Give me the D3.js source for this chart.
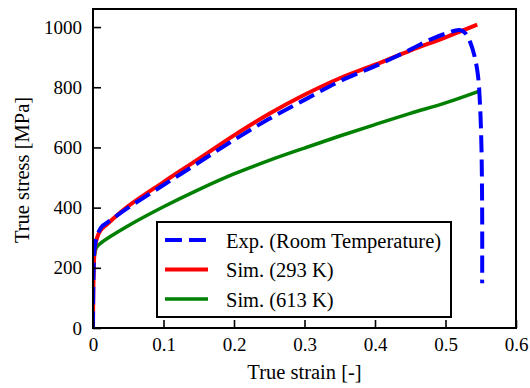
<!DOCTYPE html>
<html>
<head>
<meta charset="utf-8">
<script src="https://cdn.jsdelivr.net/npm/d3@7"></script>
<style>
  body { margin: 0; background: #fff; }
</style>
</head>
<body>
<svg id="chart" width="530" height="388"></svg>
<script>
// experimental curve (room temperature)
var expStrain = [0, 0.002, 0.005, 0.012, 0.02, 0.05, 0.1, 0.15, 0.2, 0.25, 0.3, 0.35, 0.4, 0.45, 0.48, 0.5, 0.52, 0.528, 0.535, 0.541, 0.546, 0.549, 0.551, 0.552, 0.552];
var expStress = [0, 260, 300, 336, 350, 400, 475, 550, 625, 695, 758, 820, 870, 925, 960, 978, 990, 980, 950, 905, 840, 740, 600, 380, 149];

// simulation 293 K
var sim293Strain = [0, 0.002, 0.004, 0.01, 0.02, 0.05, 0.1, 0.15, 0.2, 0.25, 0.3, 0.35, 0.4, 0.45, 0.5, 0.545];
var sim293Stress = [0, 250, 285, 322, 345, 405, 485, 562, 640, 712, 775, 830, 875, 922, 966, 1008];

// simulation 613 K
var sim613Strain = [0, 0.002, 0.005, 0.01, 0.024, 0.05, 0.1, 0.15, 0.2, 0.25, 0.3, 0.35, 0.4, 0.45, 0.5, 0.549];
var sim613Stress = [0, 240, 268, 280, 303, 340, 403, 460, 512, 557, 598, 638, 676, 713, 748, 788];

var xTicks = [0, 0.1, 0.2, 0.3, 0.4, 0.5, 0.6];
var yTicks = [0, 200, 400, 600, 800, 1000];

var seriesNames = ["Exp. (Room Temperature)", "Sim. (293 K)", "Sim. (613 K)"];
var seriesColors = ["#0000ff", "#ff0000", "#008000"];

var margin = { left: 93, right: 14, top: 9, bottom: 60 };
var width = 530, height = 388;
var serif = "'Liberation Serif', 'Times New Roman', serif";

var svg = d3.select("#chart");

var x = d3.scaleLinear().domain([0, 0.6]).range([margin.left, width - margin.right]);
var y = d3.scaleLinear().domain([0, 1060]).range([height - margin.bottom, margin.top]);

function zip(xs, ys) {
    return xs.map(function (v, i) { return [v, ys[i]]; });
}

var series = [
    { name: seriesNames[0], color: seriesColors[0], dash: "17,7", width: 4, data: zip(expStrain, expStress) },
    { name: seriesNames[1], color: seriesColors[1], dash: null, width: 4, data: zip(sim293Strain, sim293Stress) },
    { name: seriesNames[2], color: seriesColors[2], dash: null, width: 3.5, data: zip(sim613Strain, sim613Stress) }
];

var line = d3.line()
    .x(function (d) { return x(d[0]); })
    .y(function (d) { return y(d[1]); })
    .curve(d3.curveCatmullRom.alpha(0.5));

svg.append("defs").append("clipPath").attr("id", "clip")
    .append("rect")
    .attr("x", x(0)).attr("y", y(1060))
    .attr("width", x(0.6) - x(0)).attr("height", y(0) - y(1060));

var plot = svg.append("g").attr("clip-path", "url(#clip)");

// draw order: green, red, then dashed blue on top
[2, 1, 0].forEach(function (i) {
    var s = series[i];
    plot.append("path")
        .datum(s.data)
        .attr("fill", "none")
        .attr("stroke", s.color)
        .attr("stroke-width", s.width)
        .attr("stroke-dasharray", s.dash)
        .attr("d", line);
});

// axes with inward ticks
var xAxis = svg.append("g")
    .attr("transform", "translate(0," + y(0) + ")")
    .call(d3.axisBottom(x).tickValues(xTicks).tickSizeInner(-8).tickSizeOuter(0)
        .tickFormat(function (d) { return d === 0 ? "0" : d3.format(".1f")(d); }));
xAxis.attr("font-family", serif).attr("font-size", 19);
xAxis.select(".domain").remove();
xAxis.selectAll("line").attr("stroke", "#000").attr("stroke-width", 1.6);
xAxis.selectAll("text").attr("fill", "#000").attr("y", 10);

var yAxis = svg.append("g")
    .attr("transform", "translate(" + x(0) + ",0)")
    .call(d3.axisLeft(y).tickValues(yTicks).tickSizeInner(-8).tickSizeOuter(0)
        .tickFormat(d3.format("d")));
yAxis.attr("font-family", serif).attr("font-size", 19);
yAxis.select(".domain").remove();
yAxis.selectAll("line").attr("stroke", "#000").attr("stroke-width", 1.6);
yAxis.selectAll("text").attr("fill", "#000").attr("x", -11);

// frame
svg.append("rect")
    .attr("x", x(0)).attr("y", y(1060))
    .attr("width", x(0.6) - x(0)).attr("height", y(0) - y(1060))
    .attr("fill", "none").attr("stroke", "#000").attr("stroke-width", 2);

// axis labels
svg.append("text")
    .attr("x", (x(0) + x(0.6)) / 2).attr("y", 379)
    .attr("text-anchor", "middle")
    .attr("font-family", serif).attr("font-size", 20.5)
    .text("True strain [-]");

svg.append("text")
    .attr("transform", "translate(29,170) rotate(-90)")
    .attr("text-anchor", "middle")
    .attr("font-family", serif).attr("font-size", 20.5)
    .text("True stress [MPa]");

// legend
var legend = svg.append("g");
legend.append("rect")
    .attr("x", 157).attr("y", 222).attr("width", 294).attr("height", 95)
    .attr("fill", "#fff").attr("stroke", "#000").attr("stroke-width", 2);

series.forEach(function (s, i) {
    var ly = 240 + i * 29.5;
    legend.append("line")
        .attr("x1", 165).attr("x2", 208).attr("y1", ly).attr("y2", ly)
        .attr("stroke", s.color).attr("stroke-width", s.width)
        .attr("stroke-dasharray", s.dash);
    legend.append("text")
        .attr("x", 226).attr("y", ly + 7.5)
        .attr("font-family", serif).attr("font-size", 20.5)
        .text(s.name);
});
</script>
</body>
</html>
